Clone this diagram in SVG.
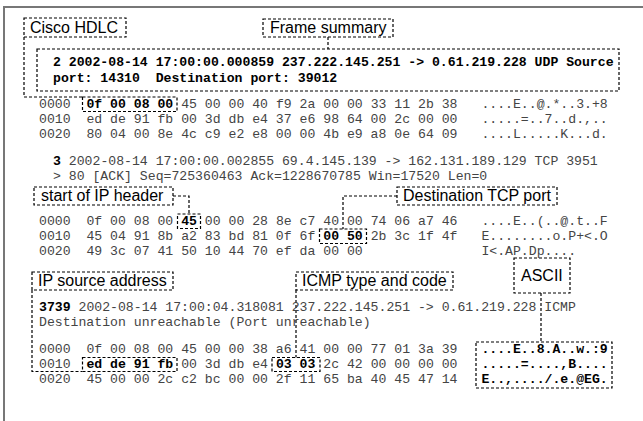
<svg xmlns="http://www.w3.org/2000/svg" width="643" height="421" viewBox="0 0 643 421" xml:space="preserve">
<style>
.m{font-family:"Liberation Mono","Courier New",monospace;font-size:13.17px;fill:#444;white-space:pre}
.b{font-weight:bold;fill:#000}
.lbl{font-family:"Liberation Sans",Arial,sans-serif;font-size:16px;fill:#000}
.box{fill:none;stroke:#000;stroke-width:1.2;stroke-dasharray:3 2}
.frame{fill:none;stroke:#777;stroke-width:2}
</style>
<rect x="0" y="0" width="643" height="421" fill="#fff"/>
<rect class="frame" x="4" y="7" width="660" height="430"/>

<g id="connectors">
<polyline class="box" points="24,37 24,97 82.5,97"/>
<line class="box" x1="328" y1="37" x2="328" y2="49"/>
<polyline class="box" points="173,196 189,196 189,214"/>
<polyline class="box" points="397,196 343,196 343,229"/>
<polyline class="box" points="32,290 32,371.5 82.5,371.5"/>
<line class="box" x1="296" y1="290" x2="296" y2="357.5"/>
<line class="box" x1="541" y1="293" x2="541" y2="342"/>
</g>

<g id="cisco-hdlc"><rect class="box" x="24" y="18" width="102" height="19"/><text class="lbl" x="30" y="33">Cisco HDLC</text></g>
<g id="frame-summary"><rect class="box" x="263" y="19" width="130" height="18"/><text class="lbl" x="270" y="33">Frame summary</text></g>
<g id="summary-box"><rect class="box" x="37" y="49" width="582" height="42"/>
<text class="m b" x="53" y="66">2 2002-08-14 17:00:00.000859 237.222.145.251 -&gt; 0.61.219.228 UDP Source</text>
<text class="m b" x="53" y="82">port: 14310&#160; Destination port: 39012</text></g>

<g id="frame2-dump">
<rect class="box" x="82.5" y="97" width="94.5" height="14.5"/>
<text class="m" x="39" y="108">0000</text><text class="m" x="86.4" y="108"><tspan class="b">0f 00 08 00</tspan> 45 00 00 40 f9 2a 00 00 33 11 2b 38</text><text class="m" x="481.4" y="108">....E..@.*..3.+8</text>
<text class="m" x="39" y="123">0010</text><text class="m" x="86.4" y="123">ed de 91 fb 00 3d db e4 37 e6 98 64 00 2c 00 00</text><text class="m" x="481.4" y="123">.....=..7..d.,..</text>
<text class="m" x="39" y="138">0020</text><text class="m" x="86.4" y="138">80 04 00 8e 4c c9 e2 e8 00 00 4b e9 a8 0e 64 09</text><text class="m" x="481.4" y="138">....L.....K...d.</text>
</g>

<g id="frame3">
<text class="m" x="53" y="165"><tspan class="b">3</tspan> 2002-08-14 17:00:00.002855 69.4.145.139 -&gt; 162.131.189.129 TCP 3951</text>
<text class="m" x="53" y="180">&gt; 80 [ACK] Seq=725360463 Ack=1228670785 Win=17520 Len=0</text>
<rect class="box" x="177.5" y="214" width="23" height="14.5"/>
<rect class="box" x="319.5" y="229" width="47" height="14.5"/>
<text class="m" x="39" y="225">0000</text><text class="m" x="86.4" y="225">0f 00 08 00 <tspan class="b">45</tspan> 00 00 28 8e c7 40 00 74 06 a7 46</text><text class="m" x="481.4" y="225">....E..(..@.t..F</text>
<text class="m" x="39" y="240">0010</text><text class="m" x="86.4" y="240">45 04 91 8b a2 83 bd 81 0f 6f <tspan class="b">00 50</tspan> 2b 3c 1f 4f</text><text class="m" x="481.4" y="240">E........o.P+&lt;.O</text>
<text class="m" x="39" y="255">0020</text><text class="m" x="86.4" y="255">49 3c 07 41 50 10 44 70 ef da 00 00</text><text class="m" x="481.4" y="255">I&lt;.AP.Dp....</text>
</g>

<g id="start-ip-header"><rect class="box" x="34" y="187" width="139" height="18"/><text class="lbl" x="41" y="201">start of IP header</text></g>
<g id="dest-tcp-port"><rect class="box" x="397" y="187" width="160" height="18"/><text class="lbl" x="403" y="201">Destination TCP port</text></g>
<g id="ip-source"><rect class="box" x="32" y="272" width="141" height="18"/><text class="lbl" x="38" y="286">IP source address</text></g>
<g id="icmp-type"><rect class="box" x="296" y="272" width="157" height="18"/><text class="lbl" x="302" y="286">ICMP type and code</text></g>
<g id="ascii"><rect class="box" x="514" y="258" width="56" height="35"/><text class="lbl" x="521" y="281">ASCII</text></g>

<g id="frame3739">
<text class="m" x="39" y="311"><tspan class="b">3739</tspan> 2002-08-14 17:00:04.318081 237.222.145.251 -&gt; 0.61.219.228 ICMP</text>
<text class="m" x="39" y="326">Destination unreachable (Port unreachable)</text>
<rect class="box" x="82.5" y="357.5" width="94.5" height="14"/>
<rect class="box" x="272" y="357.5" width="48" height="14"/>
<rect class="box" x="476" y="342" width="136" height="46"/>
<text class="m" x="39" y="353">0000</text><text class="m" x="86.4" y="353">0f 00 08 00 45 00 00 38 a6 41 00 00 77 01 3a 39</text><text class="m b" x="481.4" y="353">....E..8.A..w.:9</text>
<text class="m" x="39" y="368">0010</text><text class="m" x="86.4" y="368"><tspan class="b">ed de 91 fb</tspan> 00 3d db e4 <tspan class="b">03 03</tspan> 2c 42 00 00 00 00</text><text class="m b" x="481.4" y="368">.....=....,B....</text>
<text class="m" x="39" y="383">0020</text><text class="m" x="86.4" y="383">45 00 00 2c c2 bc 00 00 2f 11 65 ba 40 45 47 14</text><text class="m b" x="481.4" y="383">E..,..../.e.@EG.</text>
</g>
</svg>
